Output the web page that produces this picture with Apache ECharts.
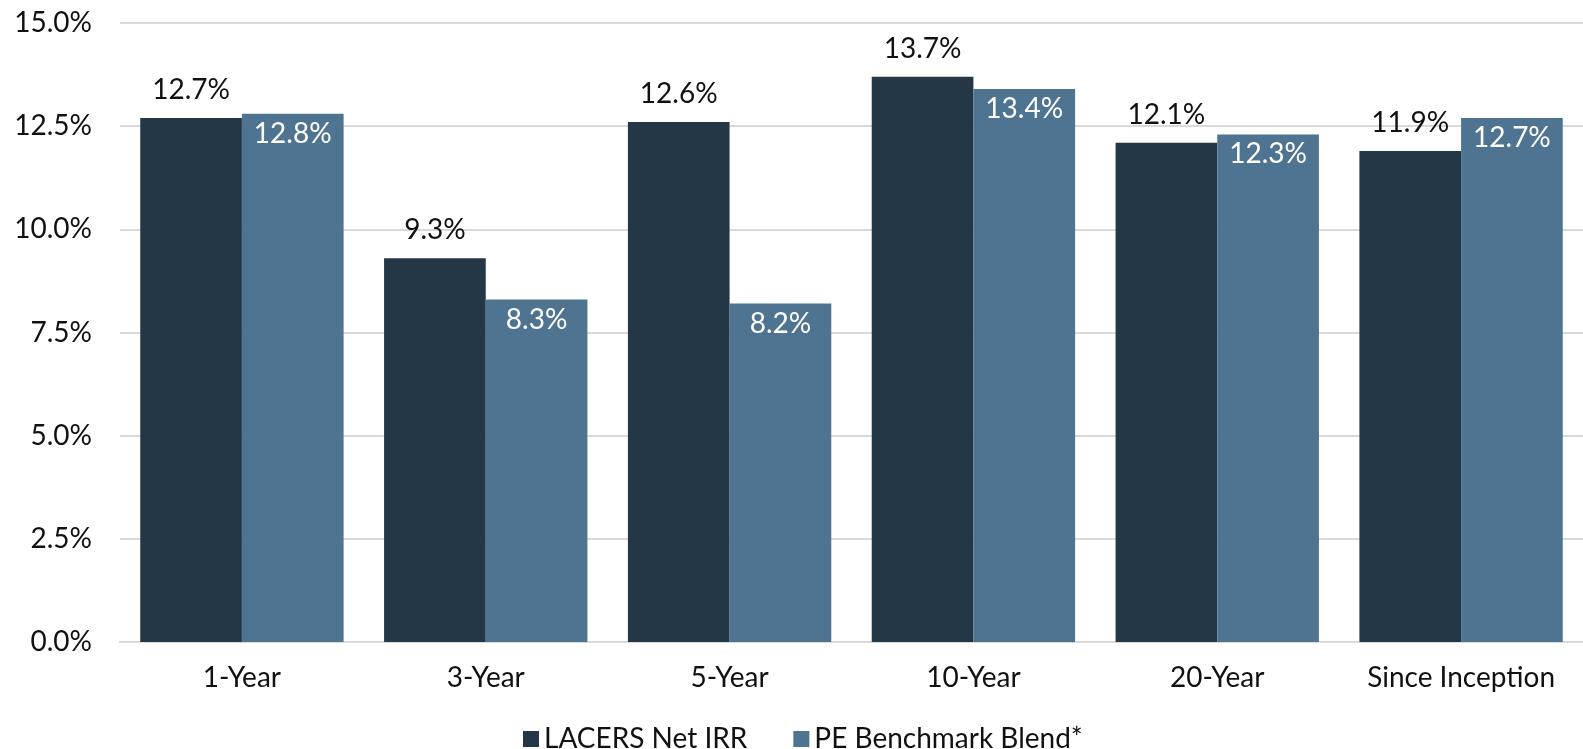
<!DOCTYPE html>
<html>
<head>
<meta charset="utf-8">
<script src="https://cdn.jsdelivr.net/npm/echarts@6/dist/echarts.min.js"></script>
<style>
  html, body { margin: 0; padding: 0; background: #ffffff; }
  #chart { width: 1583px; height: 749px; }
</style>
</head>
<body>
<div id="chart"></div>
<script>
// Return periods
const categories = ['1-Year', '3-Year', '5-Year', '10-Year', '20-Year', 'Since Inception'];
// Net IRR by period (%)
const lacersNetIrr = [12.7, 9.3, 12.6, 13.7, 12.1, 11.9];
// Benchmark blend by period (%)
const peBenchmarkBlend = [12.8, 8.3, 8.2, 13.4, 12.3, 12.7];
// Series names
const seriesNames = ['LACERS Net IRR', 'PE Benchmark Blend*'];

const FONT = 'Lato';
const FS = 28;
const chart = echarts.init(document.getElementById('chart'), null, { renderer: 'canvas' });

chart.setOption({
  animation: false,
  backgroundColor: '#ffffff',
  textStyle: { fontFamily: FONT },
  grid: { left: 120, right: 0, top: 23, bottom: 107, containLabel: false },
  legend: {
    data: seriesNames,
    left: 518,
    top: 720,
    itemWidth: 16,
    itemHeight: 16,
    itemGap: 46,
    icon: 'rect',
    textStyle: { fontFamily: FONT, fontSize: FS, color: '#111111' }
  },
  xAxis: {
    type: 'category',
    data: categories,
    axisLine: { show: true, lineStyle: { color: '#d9d9d9', width: 2 } },
    axisTick: { show: false },
    axisLabel: {
      interval: 0,
      hideOverlap: false,
      fontFamily: FONT, fontSize: FS, color: '#111111', margin: 22
    }
  },
  yAxis: {
    type: 'value',
    min: 0,
    max: 15,
    interval: 2.5,
    axisLine: { show: false },
    axisTick: { show: false },
    splitLine: { lineStyle: { color: '#d9d9d9', width: 2 } },
    axisLabel: {
      fontFamily: FONT, fontSize: FS, color: '#111111', margin: 28,
      formatter: v => v.toFixed(1) + '%'
    }
  },
  series: [
    {
      name: seriesNames[0],
      type: 'bar',
      data: lacersNetIrr,
      barGap: '0%',
      barCategoryGap: '16.6%',
      itemStyle: { color: '#243746' },
      label: {
        show: true,
        position: 'top',
        distance: 14,
        fontFamily: FONT,
        fontSize: FS,
        color: '#111111',
        formatter: p => p.value.toFixed(1) + '%'
      }
    },
    {
      name: seriesNames[1],
      type: 'bar',
      data: peBenchmarkBlend,
      barGap: '0%',
      barCategoryGap: '16.6%',
      itemStyle: { color: '#4e7491' },
      label: {
        show: true,
        position: 'insideTop',
        distance: 6,
        fontFamily: FONT,
        fontSize: FS,
        color: '#ffffff',
        formatter: p => p.value.toFixed(1) + '%'
      }
    }
  ]
});
</script>
</body>
</html>
